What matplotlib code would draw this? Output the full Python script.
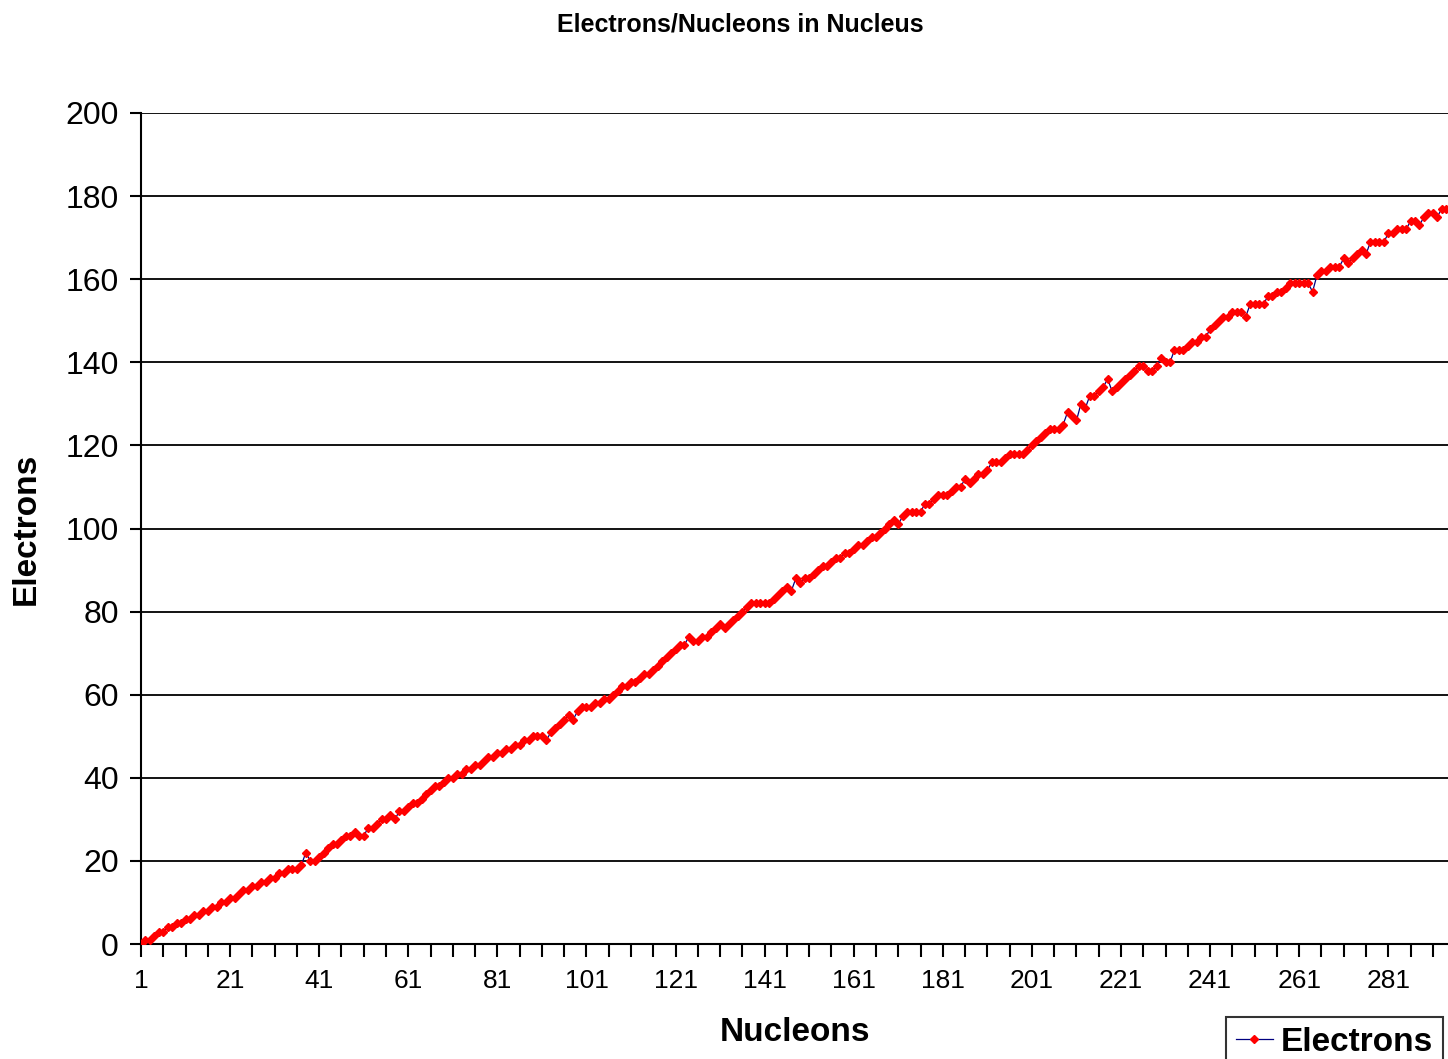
import matplotlib
matplotlib.use("Agg")
import matplotlib.pyplot as plt

plt.rcParams['font.family'] = ['Liberation Sans', 'DejaVu Sans']

# electrons, one per nucleon count 1..294
electrons = [
    0, 1, 1, 2, 3, 3, 4, 4, 5, 5,
    6, 6, 7, 7, 8, 8, 9, 9, 10, 10,
    11, 11, 12, 13, 13, 14, 14, 15, 15, 16,
    16, 17, 17, 18, 18, 18, 19, 22, 20, 20,
    21, 22, 23, 24, 24, 25, 26, 26, 27, 26,
    26, 28, 28, 29, 30, 30, 31, 30, 32, 32,
    33, 34, 34, 35, 36, 37, 38, 38, 39, 40,
    40, 41, 41, 42, 42, 43, 43, 44, 45, 45,
    46, 46, 47, 47, 48, 48, 49, 49, 50, 50,
    50, 49, 51, 52, 53, 54, 55, 54, 56, 57,
    57, 57, 58, 58, 59, 59, 60, 61, 62, 62,
    63, 63, 64, 65, 65, 66, 67, 68, 69, 70,
    71, 72, 72, 74, 73, 73, 74, 74, 75, 76,
    77, 76, 77, 78, 79, 80, 81, 82, 82, 82,
    82, 82, 83, 84, 85, 86, 85, 88, 87, 88,
    88, 89, 90, 91, 91, 92, 93, 93, 94, 94,
    95, 96, 96, 97, 98, 98, 99, 100, 101, 102,
    101, 103, 104, 104, 104, 104, 106, 106, 107, 108,
    108, 108, 109, 110, 110, 112, 111, 112, 113, 113,
    114, 116, 116, 116, 117, 118, 118, 118, 118, 119,
    120, 121, 122, 123, 124, 124, 124, 125, 128, 127,
    126, 130, 129, 132, 132, 133, 134, 136, 133, 134,
    135, 136, 137, 138, 139, 139, 138, 138, 139, 141,
    140, 140, 143, 143, 143, 144, 145, 145, 146, 146,
    148, 149, 150, 151, 151, 152, 152, 152, 151, 154,
    154, 154, 154, 156, 156, 157, 157, 158, 159, 159,
    159, 159, 159, 157, 161, 162, 162, 163, 163, 163,
    165, 164, 165, 166, 167, 166, 169, 169, 169, 169,
    171, 171, 172, 172, 172, 174, 174, 173, 175, 176,
    176, 175, 177, 177,
]
nucleons = list(range(1, len(electrons) + 1))

fig = plt.figure(figsize=(14.48, 10.59), dpi=100)
ax = fig.add_axes([141 / 1448, 1 - 944 / 1059, 1 - 141 / 1448, (944 - 113) / 1059])

ax.plot(nucleons, electrons, color='#000080', lw=0.9, marker='D', ms=4.2,
        mfc='red', mec='red', label='Electrons', zorder=3)

ax.set_xlim(1, 294.4)
ax.set_ylim(0, 200)
ax.set_yticks(range(0, 201, 20))
ax.yaxis.grid(True, color='black', lw=1.3)
ax.set_axisbelow(True)

xt = list(range(1, 295, 5))
ax.set_xticks(xt)
ax.set_xticklabels([str(c) if (c - 1) % 20 == 0 else '' for c in xt])

for s in ['top', 'right']:
    ax.spines[s].set_visible(False)
for s in ['left', 'bottom']:
    ax.spines[s].set_linewidth(1.5)

ax.tick_params(axis='x', direction='out', length=9, width=1.5, labelsize=19, pad=9)
ax.tick_params(axis='y', direction='out', length=8, width=1.5, labelsize=23, pad=8)

ax.set_xlabel('Nucleons', fontsize=24, fontweight='bold', labelpad=17)
ax.set_ylabel('Electrons', fontsize=24, fontweight='bold', labelpad=17)

fig.text(0.511, 1 - 25 / 1059, 'Electrons/Nucleons in Nucleus', ha='center', va='center',
         fontsize=18, fontweight='bold')

leg = fig.legend(loc='upper left', bbox_to_anchor=(1226 / 1448, 1 - 1017 / 1059),
                 prop={'weight': 'bold', 'size': 24}, frameon=True,
                 fancybox=False, handlelength=1.1, handletextpad=0.25,
                 borderpad=0.3, borderaxespad=0)
leg.get_frame().set_edgecolor('black')
leg.get_frame().set_linewidth(1.5)

fig.savefig('out.png', dpi=100)
